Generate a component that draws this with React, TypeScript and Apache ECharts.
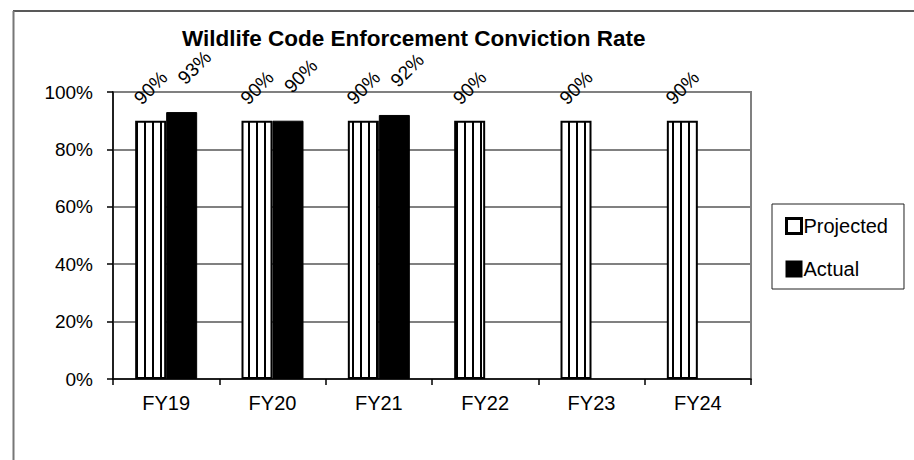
import React, { useEffect, useRef } from "react";
import * as echarts from "echarts";

const categories = ["FY19", "FY20", "FY21", "FY22", "FY23", "FY24"];
const projected = [90, 90, 90, 90, 90, 90];
const actual: (number | null)[] = [93, 90, 92, null, null, null];
const yTicks = { min: 0, max: 100, interval: 20 };
const titleText = "Wildlife Code Enforcement Conviction Rate";
const seriesNames = ["Projected", "Actual"];

const FONT = "'Liberation Sans', Arial, Helvetica, sans-serif";

function makeStripe(): HTMLCanvasElement {
  const c = document.createElement("canvas");
  c.width = 8;
  c.height = 8;
  const ctx = c.getContext("2d")!;
  ctx.fillStyle = "#ffffff";
  ctx.fillRect(0, 0, 8, 8);
  ctx.fillStyle = "#000000";
  ctx.fillRect(0, 0, 2, 8);
  return c;
}

export default function App() {
  const ref = useRef<HTMLDivElement>(null);
  useEffect(() => {
    if (!ref.current) return;
    const chart = echarts.init(ref.current, undefined, { renderer: "svg" });
    const stripe = makeStripe();
    const labelBase = {
      show: true,
      position: "top",
      rotate: 45,
      align: "center",
      verticalAlign: "middle",
      formatter: "{c}%",
      fontFamily: FONT,
      fontSize: 19,
      color: "#000",
    };
    chart.setOption({
      animation: false,
      backgroundColor: "#ffffff",
      title: {
        text: titleText,
        left: 177,
        top: 22,
        textStyle: { fontFamily: FONT, fontSize: 22.5, fontWeight: "bold", color: "#000" },
      },
      legend: {
        orient: "vertical",
        left: 772,
        top: 204,
        padding: [12, 16, 10, 13],
        itemGap: 23,
        itemWidth: 15,
        itemHeight: 15,
        icon: "rect",
        borderColor: "#222",
        borderWidth: 1,
        textStyle: { fontFamily: FONT, fontSize: 20, color: "#000", padding: [0, 0, 0, -3] },
        data: [
          { name: seriesNames[0], itemStyle: { color: "#fff", borderColor: "#000", borderWidth: 3 } },
          { name: seriesNames[1] },
        ],
      },
      grid: {
        left: 113,
        right: 163,
        top: 92,
        bottom: 81,
        show: true,
        borderColor: "#808080",
        borderWidth: 2,
      },
      xAxis: {
        type: "category",
        data: categories,
        axisLine: { lineStyle: { color: "#000", width: 1.5 } },
        axisTick: { show: true, alignWithLabel: false, length: 6, lineStyle: { color: "#000", width: 1.5 } },
        axisLabel: { fontFamily: FONT, fontSize: 20, color: "#000", margin: 14 },
      },
      yAxis: {
        type: "value",
        min: yTicks.min,
        max: yTicks.max,
        interval: yTicks.interval,
        axisLine: { show: true, lineStyle: { color: "#000", width: 1.5 } },
        axisTick: { show: true, length: 6, lineStyle: { color: "#000", width: 1.5 } },
        axisLabel: { fontFamily: FONT, fontSize: 19, color: "#000", margin: 20, formatter: "{value}%" },
        splitLine: { lineStyle: { color: "#808080", width: 2 } },
      },
      series: [
        {
          name: seriesNames[0],
          type: "bar",
          data: projected,
          barWidth: 31,
          barGap: "0%",
          itemStyle: {
            color: { image: stripe, repeat: "repeat" },
            borderColor: "#000",
            borderWidth: 2,
          },
          label: { ...labelBase, distance: 33, offset: [0, 0] },
        },
        {
          name: seriesNames[1],
          type: "bar",
          data: actual,
          barWidth: 31,
          barGap: "0%",
          itemStyle: { color: "#000", borderColor: "#000", borderWidth: 1 },
          label: { ...labelBase, distance: 32, offset: [18, 0] },
        },
      ],
      graphic: [
        { type: "line", shape: { x1: 13, y1: 11, x2: 914, y2: 11 }, style: { stroke: "#222", lineWidth: 1.7 }, silent: true },
        { type: "line", shape: { x1: 13.5, y1: 11, x2: 13.5, y2: 460 }, style: { stroke: "#777", lineWidth: 2 }, silent: true },
      ],
    });
    return () => chart.dispose();
  }, []);
  return (
    <div
      ref={ref}
      style={{ position: "fixed", left: 0, top: 0, width: 914, height: 460, background: "#fff" }}
    />
  );
}
